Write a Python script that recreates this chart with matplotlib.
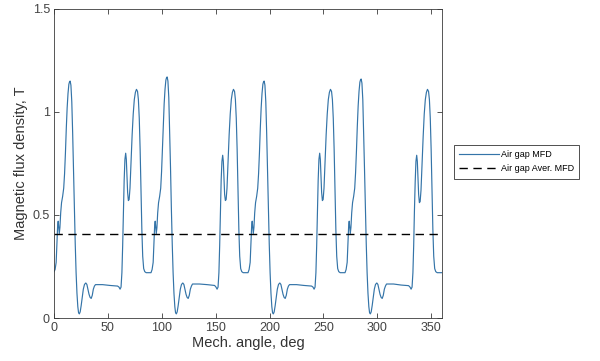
import matplotlib
matplotlib.use("Agg")
import matplotlib.pyplot as plt
import numpy as np

plt.rcParams['font.family'] = ['Liberation Sans', 'DejaVu Sans']

# Angular positions (deg) within one 90-deg pole pitch
offset_deg = [0, 1, 2, 2.7, 3.4, 3.9, 4.4, 4.9, 5.5, 6.2, 7, 8, 9, 9.8, 10.6,
              11.4, 12.2, 13, 13.8, 14.5, 15, 15.7, 16.5, 17.3, 18.1, 18.9,
              19.7, 20.5, 21.3, 22.1, 22.8, 23.5, 24.3, 25.2, 26.2, 27.2,
              28.3, 29.5, 30.5, 31.5, 32.5, 33.5, 34.5, 35.5, 36.5, 37.5,
              38.5, 45, 52, 59, 60.3, 61.3, 62.2, 63, 63.7, 64.4, 65.1, 65.8,
              66.5, 67.1, 67.7, 68.3, 69, 69.7, 70.5, 71.5, 72.5, 73.5, 74.5,
              75.5, 76.5, 77.5, 78.3, 79.1, 79.9, 80.7, 81.5, 82.3, 83.2,
              84.2, 85.5, 88]
period_start = [0, 90, 180, 270]

# Air-gap flux density (T) over each pole pitch
flux_p1 = [0.225, 0.235, 0.27, 0.36, 0.45, 0.47, 0.44, 0.41, 0.44, 0.51, 0.56,
           0.59, 0.63, 0.70, 0.80, 0.92, 1.02, 1.09, 1.135, 1.148, 1.15, 1.13,
           1.05, 0.90, 0.72, 0.53, 0.36, 0.22, 0.12, 0.055, 0.025, 0.02, 0.03,
           0.06, 0.10, 0.14, 0.163, 0.17, 0.163, 0.14, 0.115, 0.10, 0.095,
           0.11, 0.14, 0.155, 0.162, 0.162, 0.158, 0.155, 0.15, 0.14, 0.15,
           0.22, 0.35, 0.52, 0.67, 0.77, 0.80, 0.77, 0.69, 0.61, 0.57, 0.575,
           0.63, 0.76, 0.89, 0.99, 1.06, 1.095, 1.11, 1.10, 1.06, 0.97, 0.82,
           0.62, 0.43, 0.30, 0.24, 0.225, 0.22, 0.22]
flux_p2 = [0.22, 0.235, 0.27, 0.36, 0.45, 0.47, 0.44, 0.41, 0.44, 0.51, 0.56,
           0.59, 0.63, 0.71, 0.82, 0.94, 1.04, 1.11, 1.155, 1.168, 1.17, 1.15,
           1.07, 0.91, 0.73, 0.53, 0.36, 0.22, 0.12, 0.055, 0.025, 0.02, 0.03,
           0.06, 0.10, 0.14, 0.163, 0.17, 0.163, 0.14, 0.115, 0.10, 0.095,
           0.11, 0.14, 0.155, 0.165, 0.165, 0.162, 0.158, 0.15, 0.14, 0.15,
           0.22, 0.35, 0.52, 0.67, 0.76, 0.79, 0.76, 0.68, 0.60, 0.57, 0.575,
           0.63, 0.76, 0.89, 0.99, 1.06, 1.095, 1.11, 1.10, 1.06, 0.97, 0.82,
           0.62, 0.43, 0.30, 0.24, 0.225, 0.22, 0.22]
flux_p3 = [0.22, 0.235, 0.27, 0.36, 0.45, 0.47, 0.44, 0.41, 0.44, 0.51, 0.56,
           0.59, 0.63, 0.70, 0.80, 0.92, 1.02, 1.09, 1.135, 1.148, 1.15, 1.13,
           1.05, 0.90, 0.72, 0.53, 0.36, 0.22, 0.12, 0.055, 0.025, 0.02, 0.03,
           0.06, 0.10, 0.14, 0.163, 0.17, 0.163, 0.14, 0.115, 0.10, 0.095,
           0.11, 0.14, 0.155, 0.162, 0.162, 0.158, 0.155, 0.15, 0.14, 0.15,
           0.22, 0.35, 0.52, 0.67, 0.77, 0.80, 0.77, 0.69, 0.61, 0.57, 0.575,
           0.63, 0.76, 0.89, 0.99, 1.06, 1.095, 1.11, 1.10, 1.06, 0.97, 0.82,
           0.62, 0.43, 0.30, 0.24, 0.225, 0.22, 0.22]
flux_p4 = [0.22, 0.235, 0.27, 0.36, 0.45, 0.47, 0.44, 0.41, 0.44, 0.51, 0.56,
           0.59, 0.63, 0.705, 0.81, 0.93, 1.03, 1.10, 1.145, 1.158, 1.16, 1.14,
           1.06, 0.90, 0.72, 0.53, 0.36, 0.22, 0.12, 0.055, 0.025, 0.02, 0.03,
           0.06, 0.10, 0.14, 0.163, 0.17, 0.163, 0.14, 0.115, 0.10, 0.095,
           0.11, 0.14, 0.155, 0.165, 0.165, 0.16, 0.157, 0.15, 0.14, 0.15,
           0.22, 0.35, 0.52, 0.66, 0.76, 0.79, 0.76, 0.68, 0.60, 0.56, 0.565,
           0.62, 0.75, 0.88, 0.99, 1.06, 1.095, 1.11, 1.10, 1.06, 0.97, 0.82,
           0.62, 0.43, 0.30, 0.24, 0.225, 0.22, 0.22]
end_angle = 360
end_flux = 0.22

avg_flux = 0.41

x_ticks = [0, 50, 100, 150, 200, 250, 300, 350]
y_ticks = [0, 0.5, 1, 1.5]
y_tick_labels = ['0', '0.5', '1', '1.5']

angles = []
flux = []
for start, vals in zip(period_start, [flux_p1, flux_p2, flux_p3, flux_p4]):
    angles.extend([start + o for o in offset_deg])
    flux.extend(vals)
angles.append(end_angle)
flux.append(end_flux)

fig = plt.figure(figsize=(6.0, 3.61), dpi=100)
ax = fig.add_axes([0.09, 0.1191, 0.6467, 0.856])

line_mfd, = ax.plot(angles, flux, color='#3474a8', lw=0.85, label='Air gap MFD')
line_avg = ax.axhline(avg_flux, color='black', lw=1.0, ls=(0, (6, 4)),
                      label='Air gap Aver. MFD')

ax.set_xlim(0, 360)
ax.set_ylim(0, 1.5)
ax.set_xticks(x_ticks)
ax.set_yticks(y_ticks)
ax.set_yticklabels(y_tick_labels)

frame_col = '#3a3a3a'
for sp in ax.spines.values():
    sp.set_color(frame_col)
    sp.set_linewidth(0.6)
ax.tick_params(direction='in', length=3.5, width=0.6, colors=frame_col,
               labelcolor='#444444', labelsize=9, top=True, right=True, pad=3)

ax.set_xlabel('Mech. angle, deg', fontsize=10.5, color='#333333', labelpad=1)
ax.set_ylabel('Magnetic flux density, T', fontsize=10.5, color='#333333',
              labelpad=3)

leg = fig.legend(handles=[line_mfd, line_avg], loc='upper left',
                 bbox_to_anchor=(454 / 600, 1 - 145 / 361),
                 bbox_transform=fig.transFigure, fontsize=6.5, frameon=True,
                 fancybox=False, borderaxespad=0, handlelength=4.4,
                 handletextpad=0.2, borderpad=0.6, labelspacing=0.55)
leg.get_frame().set_edgecolor('black')
leg.get_frame().set_linewidth(0.6)

fig.savefig('out.png', dpi=100)
